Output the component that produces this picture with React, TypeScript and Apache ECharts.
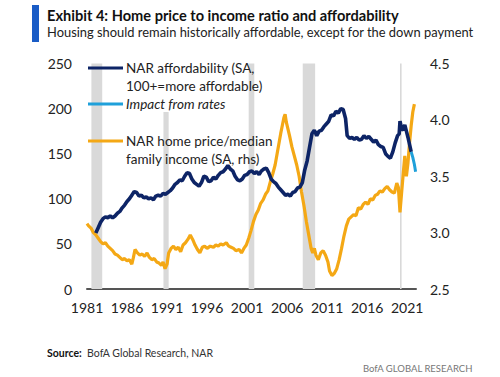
import React, { useEffect, useRef } from "react";
import * as echarts from "echarts";

const affordability: [number, number][] = [
  [1982.1, 62], [1982.4, 68], [1982.7, 74], [1983.0, 78], [1983.3, 80], [1983.6, 79], [1983.9, 81],
  [1984.2, 79], [1984.5, 81], [1984.8, 84], [1985.1, 86], [1985.4, 90], [1985.7, 93], [1986.0, 97],
  [1986.3, 100], [1986.6, 104], [1986.9, 108], [1987.2, 107], [1987.5, 103], [1987.8, 104], [1988.1, 101],
  [1988.4, 102], [1988.7, 100], [1989.0, 101], [1989.3, 99], [1989.6, 103], [1989.9, 104], [1990.2, 103],
  [1990.5, 106], [1990.8, 105], [1991.1, 107], [1991.4, 109], [1991.7, 112], [1992.0, 116], [1992.3, 118],
  [1992.6, 121], [1992.9, 120], [1993.2, 125], [1993.5, 129], [1993.8, 128], [1994.1, 122], [1994.4, 118],
  [1994.7, 116], [1995.0, 114], [1995.3, 118], [1995.6, 125], [1995.9, 124], [1996.2, 119], [1996.5, 120],
  [1996.8, 124], [1997.1, 122], [1997.4, 126], [1997.7, 129], [1998.0, 130], [1998.3, 133], [1998.6, 137],
  [1998.9, 133], [1999.2, 131], [1999.5, 125], [1999.8, 121], [2000.1, 120], [2000.4, 122], [2000.7, 126],
  [2001.0, 127], [2001.3, 130], [2001.6, 131], [2001.9, 128], [2002.2, 130], [2002.5, 127], [2002.8, 131],
  [2003.1, 133], [2003.4, 134], [2003.7, 129], [2004.0, 122], [2004.3, 119], [2004.6, 117], [2004.9, 113],
  [2005.2, 110], [2005.5, 107], [2005.8, 104], [2006.1, 105], [2006.4, 103], [2006.7, 107], [2007.0, 108],
  [2007.3, 112], [2007.6, 113], [2007.9, 118], [2008.2, 132], [2008.5, 142], [2008.8, 157], [2009.1, 172],
  [2009.4, 176], [2009.7, 170], [2010.0, 175], [2010.3, 176], [2010.6, 180], [2010.9, 183], [2011.2, 186],
  [2011.5, 193], [2011.8, 192], [2012.1, 197], [2012.4, 195], [2012.7, 200], [2013.0, 199], [2013.3, 189],
  [2013.5, 170], [2013.8, 167], [2014.1, 168], [2014.4, 166], [2014.7, 168], [2015.0, 165], [2015.3, 166],
  [2015.6, 170], [2015.9, 167], [2016.2, 169], [2016.5, 166], [2016.8, 163], [2017.1, 165], [2017.4, 160],
  [2017.7, 158], [2018.0, 157], [2018.3, 150], [2018.6, 147], [2018.9, 145], [2019.2, 152], [2019.5, 162],
  [2019.8, 170], [2020.0, 172], [2020.1, 186], [2020.3, 178], [2020.5, 176], [2020.7, 182], [2020.9, 175],
  [2021.1, 168], [2021.3, 160], [2021.5, 152],
];

const impactFromRates: [number, number][] = [
  [2021.5, 152], [2021.7, 146], [2021.9, 138], [2022.05, 130],
];

const priceToIncome: [number, number][] = [
  [1981.0, 3.08], [1981.2, 3.06], [1981.5, 3.04], [1981.8, 3.0], [1982.1, 2.98], [1982.4, 2.95], [1982.7, 2.92],
  [1983.0, 2.9], [1983.3, 2.91], [1983.6, 2.88], [1983.9, 2.86], [1984.2, 2.84], [1984.5, 2.81], [1984.8, 2.8],
  [1985.1, 2.78], [1985.4, 2.76], [1985.7, 2.77], [1986.0, 2.75], [1986.3, 2.76], [1986.6, 2.72], [1986.8, 2.78],
  [1987.0, 2.85], [1987.3, 2.82], [1987.6, 2.8], [1987.9, 2.81], [1988.2, 2.79], [1988.5, 2.82], [1988.8, 2.78],
  [1989.1, 2.76], [1989.4, 2.77], [1989.7, 2.74], [1990.0, 2.73], [1990.3, 2.71], [1990.5, 2.74], [1990.75, 2.68],
  [1991.0, 2.72], [1991.2, 2.82], [1991.5, 2.86], [1991.8, 2.88], [1992.1, 2.85], [1992.4, 2.87], [1992.7, 2.83],
  [1993.0, 2.89], [1993.3, 2.91], [1993.6, 2.94], [1993.9, 2.98], [1994.2, 2.94], [1994.5, 2.89], [1994.8, 2.85],
  [1995.1, 2.82], [1995.4, 2.87], [1995.7, 2.88], [1996.0, 2.86], [1996.4, 2.88], [1996.8, 2.87], [1997.1, 2.89],
  [1997.4, 2.88], [1997.7, 2.9], [1998.0, 2.89], [1998.4, 2.91], [1998.7, 2.88], [1999.0, 2.87], [1999.3, 2.86],
  [1999.6, 2.84], [2000.0, 2.85], [2000.3, 2.82], [2000.6, 2.86], [2000.9, 2.89], [2001.2, 2.95], [2001.5, 3.02],
  [2001.8, 3.1], [2002.1, 3.16], [2002.4, 3.2], [2002.7, 3.26], [2003.0, 3.29], [2003.3, 3.34], [2003.6, 3.37],
  [2003.9, 3.45], [2004.2, 3.52], [2004.5, 3.6], [2004.8, 3.72], [2005.0, 3.8], [2005.2, 3.88], [2005.4, 3.95],
  [2005.6, 4.02], [2005.75, 4.05], [2005.9, 3.98], [2006.1, 3.92], [2006.3, 3.86], [2006.6, 3.76], [2006.9, 3.68],
  [2007.2, 3.6], [2007.5, 3.5], [2007.8, 3.36], [2008.1, 3.24], [2008.4, 3.1], [2008.7, 2.98], [2009.0, 2.86],
  [2009.2, 2.82], [2009.4, 2.86], [2009.6, 2.8], [2009.9, 2.76], [2010.2, 2.82], [2010.5, 2.84], [2010.8, 2.8],
  [2011.1, 2.74], [2011.3, 2.66], [2011.6, 2.62], [2011.9, 2.64], [2012.2, 2.68], [2012.5, 2.76], [2012.8, 2.86],
  [2013.1, 2.97], [2013.4, 3.06], [2013.7, 3.12], [2014.0, 3.14], [2014.3, 3.16], [2014.6, 3.15], [2014.9, 3.22],
  [2015.2, 3.21], [2015.5, 3.25], [2015.8, 3.27], [2016.1, 3.25], [2016.4, 3.3], [2016.7, 3.29], [2017.0, 3.33],
  [2017.3, 3.34], [2017.6, 3.37], [2017.9, 3.36], [2018.2, 3.39], [2018.5, 3.41], [2018.8, 3.38], [2019.1, 3.36],
  [2019.4, 3.35], [2019.7, 3.44], [2019.9, 3.4], [2020.1, 3.18], [2020.3, 3.35], [2020.5, 3.52], [2020.7, 3.68],
  [2020.9, 3.5], [2021.1, 3.62], [2021.3, 3.8], [2021.5, 3.95], [2021.7, 4.07], [2021.9, 4.14],
];

const recessions: [number, number][] = [
  [1981.55, 1982.9], [1990.55, 1991.2], [2001.2, 2001.9], [2007.95, 2009.5], [2020.1, 2020.3],
];

const xTickYears = [1981, 1986, 1991, 1996, 2001, 2006, 2011, 2016, 2021];
const leftTicks = [0, 50, 100, 150, 200, 250];
const rightTicks = [2.5, 3.0, 3.5, 4.0, 4.5];

const seriesNames = [
  "NAR affordability (SA,\n100+=more affordable)",
  "Impact from rates",
  "NAR home price/median\nfamily income (SA, rhs)",
];

const NAVY = "#0d2466";
const LIGHT = "#1fa0da";
const GOLD = "#f4a815";
const FONT = "Lato, 'Liberation Sans', sans-serif";

export default function App() {
  const ref = useRef<HTMLDivElement>(null);
  useEffect(() => {
    if (!ref.current) return;
    const chart = echarts.init(ref.current, undefined, { renderer: "svg" });
    const legendY = [68, 104, 141];
    const legendColors = [NAVY, LIGHT, GOLD];
    const legendGraphics: any[] = [
      { type: "rect", z: 50, shape: { x: 124, y: 56, width: 123, height: 56 }, style: { fill: "#fff" } },
    ];
    seriesNames.forEach((name, i) => {
      legendGraphics.push({
        type: "line",
        z: 51,
        shape: { x1: 88, y1: legendY[i], x2: 123, y2: legendY[i] },
        style: { stroke: legendColors[i], lineWidth: 3 },
      });
      legendGraphics.push({
        type: "text",
        z: 51,
        x: 126,
        y: legendY[i] - 9,
        style: {
          text: name,
          font: `${i === 1 ? "italic " : ""}13.5px ${FONT}`,
          fill: "#222",
          lineHeight: 18,
          textVerticalAlign: "top",
        },
      });
    });
    chart.setOption({
      animation: false,
      grid: { left: 87, right: 84, top: 63.5, bottom: 88 },
      xAxis: {
        type: "value",
        min: 1981,
        max: 2022.1,
        interval: 5,
        axisLine: { show: true, lineStyle: { color: "#555", width: 2 } },
        axisTick: { show: false },
        splitLine: { show: false },
        axisLabel: {
          color: "#222",
          fontSize: 14,
          fontFamily: FONT,
          margin: 11,
          formatter: (v: number) => (xTickYears.includes(Math.round(v * 10) / 10) ? String(v) : ""),
        },
      },
      yAxis: [
        {
          type: "value",
          min: leftTicks[0],
          max: leftTicks[leftTicks.length - 1],
          interval: 50,
          position: "left",
          axisLine: { show: false },
          axisTick: { show: false },
          splitLine: { show: false },
          axisLabel: { color: "#222", fontSize: 14, fontFamily: FONT, margin: 15 },
        },
        {
          type: "value",
          min: rightTicks[0],
          max: rightTicks[rightTicks.length - 1],
          interval: 0.5,
          position: "right",
          axisLine: { show: false },
          axisTick: { show: false },
          splitLine: { show: false },
          axisLabel: {
            color: "#222",
            fontSize: 14,
            fontFamily: FONT,
            margin: 14,
            formatter: (v: number) => v.toFixed(1),
          },
        },
      ],
      series: [
        {
          name: seriesNames[2],
          type: "line",
          yAxisIndex: 1,
          data: priceToIncome,
          showSymbol: false,
          lineStyle: { color: GOLD, width: 3.2 },
          itemStyle: { color: GOLD },
          z: 3,
          markArea: {
            silent: true,
            itemStyle: { color: "#d9d9d9" },
            data: recessions.map(([a, b]) => [{ xAxis: a }, { xAxis: b }]),
          },
        },
        {
          name: seriesNames[0],
          type: "line",
          yAxisIndex: 0,
          data: affordability,
          showSymbol: false,
          lineStyle: { color: NAVY, width: 3.6 },
          itemStyle: { color: NAVY },
          z: 4,
        },
        {
          name: seriesNames[1],
          type: "line",
          yAxisIndex: 0,
          data: impactFromRates,
          showSymbol: false,
          lineStyle: { color: LIGHT, width: 3 },
          itemStyle: { color: LIGHT },
          z: 5,
        },
      ],
      graphic: [
        { type: "rect", shape: { x: 32, y: 5, width: 7, height: 37 }, style: { fill: "#1a5cc6" } },
        {
          type: "text",
          x: 47,
          y: 8,
          style: { text: "Exhibit 4: Home price to income ratio and affordability", font: `bold 14.6px ${FONT}`, fill: "#111" },
        },
        {
          type: "text",
          x: 47,
          y: 25,
          style: {
            text: "Housing should remain historically affordable, except for the down payment",
            font: `12.9px ${FONT}`,
            fill: "#222",
          },
        },
        ...legendGraphics,
        {
          type: "text",
          x: 47,
          y: 347,
          style: {
            rich: { b: { fontWeight: "bold", fontSize: 10.5, fontFamily: FONT, fill: "#111" }, n: { fontSize: 10.5, fontFamily: FONT, fill: "#333" } },
            text: "{b|Source:}{n|  BofA Global Research, NAR}",
          },
        },
        {
          type: "text",
          x: 363,
          y: 363,
          style: { text: "BofA GLOBAL RESEARCH", font: `9.5px ${FONT}`, fill: "#777" },
        },
      ],
    });
    return () => chart.dispose();
  }, []);
  return <div ref={ref} style={{ width: 500, height: 377, position: "absolute", left: 0, top: 0 }} />;
}
